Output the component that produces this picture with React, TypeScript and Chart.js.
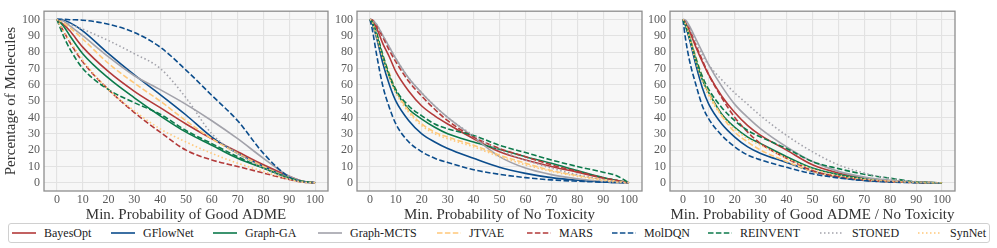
import React, { useEffect, useRef } from "react";
import { Chart, registerables } from "chart.js";
Chart.register(...registerables);

// ---------- data ----------
const methods = ["BayesOpt", "GFlowNet", "Graph-GA", "Graph-MCTS", "JTVAE", "MARS", "MolDQN", "REINVENT", "STONED", "SynNet"];
const tickValues = [0, 10, 20, 30, 40, 50, 60, 70, 80, 90, 100];

const xAdme = [0, 2.5, 5, 10, 20, 30, 40, 50, 60, 70, 80, 90, 95, 100];
const admeBayesOpt = [100, 97, 93, 83, 68, 56, 46, 36, 27, 19, 11, 4, 1, 0];
const admeGFlowNet = [100, 99.5, 98, 93, 79, 66, 54, 41.5, 28, 18, 10, 3, 1, 0];
const admeGraphGA = [100, 96, 90, 79, 64, 52, 41, 31, 23, 15, 9, 3, 1, 0];
const admeGraphMCTS = [100, 99, 96, 90, 77, 65.5, 57, 48, 38, 27, 15, 4, 1, 0];
const admeJTVAE = [100, 98, 95, 88, 73, 61, 50, 38, 27, 18, 10, 3, 1, 0];
const admeMARS = [100, 93, 86, 74, 57, 43, 31, 20, 14, 10, 6, 2, 0.5, 0];
const admeMolDQN = [100, 100, 99.8, 99.5, 97, 92, 83, 69, 53.5, 38, 18, 3.5, 0.8, 0];
const admeREINVENT = [100, 90, 82, 70, 57, 49, 42, 32, 24, 16, 9, 3, 1, 0];
const admeSTONED = [100, 99, 97, 94, 87, 79, 70, 52, 30, 18, 9, 2.5, 0.5, 0];
const admeSynNet = [100, 93, 87, 75, 57, 44, 33, 25, 18, 12, 7, 2, 0.5, 0];

const xTox = [0, 1, 2.5, 5, 7.5, 10, 15, 20, 25, 30, 40, 50, 60, 70, 80, 90, 95, 100];
const toxBayesOpt = [100, 99, 95, 85, 77, 68, 56, 47, 41, 36, 27, 19, 14, 10, 6.5, 3, 1.5, 0];
const toxGFlowNet = [100, 97, 89, 73, 60, 50, 38, 30, 25, 21, 15, 9.5, 5.8, 3.2, 1.6, 0.6, 0.2, 0];
const toxGraphGA = [100, 98, 91, 77, 65, 56, 45, 39, 34, 30, 25, 20.5, 16, 12, 7.5, 3.2, 1.5, 0];
const toxGraphMCTS = [100, 99.5, 97, 90, 83, 76, 64, 55, 47, 40, 28, 16, 9, 5, 2.5, 0.8, 0.3, 0];
const toxJTVAE = [100, 98, 91, 78, 67, 57, 44, 36, 31, 28, 23, 17, 12, 7.5, 4.5, 2, 1, 0];
const toxMARS = [100, 99.5, 96, 89, 81, 74, 62, 53, 45, 38, 28, 21, 16, 11, 7, 3, 1.5, 0];
const toxMolDQN = [100, 93, 79, 59, 46, 36, 25, 19, 15, 12.5, 8, 5.2, 3.2, 1.8, 1, 0.4, 0.2, 0];
const toxREINVENT = [100, 98, 92, 78, 66, 57, 47, 41, 36, 33, 29, 23, 18.5, 14, 10, 6.5, 4.5, 0];
const toxSTONED = [100, 99.5, 97, 90, 83, 76, 64, 55, 47, 40, 29, 20, 14, 9, 5, 2, 0.8, 0];
const toxSynNet = [100, 98, 90, 76, 64, 55, 43, 35, 30, 27, 22, 16, 11, 7, 4, 1.5, 0.5, 0];

const xBoth = [0, 1, 2.5, 5, 7.5, 10, 15, 20, 25, 30, 40, 50, 60, 70, 80, 90, 95, 100];
const bothBayesOpt = [100, 98, 93, 83, 74, 66, 53, 43, 35, 29, 20, 11, 6, 3, 1.3, 0.4, 0.1, 0];
const bothGFlowNet = [100, 96, 88, 72, 58, 48, 36, 28, 22, 18, 12.5, 7, 3.5, 1.5, 0.6, 0.2, 0, 0];
const bothGraphGA = [100, 97, 90, 75, 63, 55, 42, 34, 28, 24, 16, 9, 5, 2.6, 1.2, 0.4, 0.1, 0];
const bothGraphMCTS = [100, 99.5, 96, 88, 80, 72, 59, 48, 40, 33, 22, 13, 7, 3.5, 1.5, 0.5, 0.2, 0];
const bothJTVAE = [100, 97, 90, 77, 65, 55, 41, 31, 25, 20, 13, 7, 3.6, 1.8, 0.7, 0.2, 0.1, 0];
const bothMARS = [100, 98, 94, 84, 75, 66, 52, 40, 31, 24, 15, 7.5, 3.8, 1.7, 0.7, 0.2, 0.1, 0];
const bothMolDQN = [100, 88, 75, 60, 47, 39, 29, 22, 17, 14, 9.5, 5.5, 3, 1.4, 0.5, 0.1, 0, 0];
const bothREINVENT = [100, 96, 89, 76, 65, 57, 46, 38, 32, 28, 21, 13, 8.7, 5.2, 2.8, 0.6, 0.2, 0];
const bothSTONED = [100, 99, 95, 86, 78, 72, 63, 55, 48, 41, 29, 19, 11, 6, 2.5, 0.7, 0.2, 0];
const bothSynNet = [100, 97, 89, 74, 62, 53, 41, 33, 27, 23, 15, 8.5, 4.5, 2.3, 1, 0.3, 0.1, 0];

// ---------- styles ----------
const RED = "#b33a3a";
const BLUE = "#0c4d8c";
const GREEN = "#0c7a4b";
const GREY = "#a2a2aa";
const ORANGE = "#ffc879";
const lineColors = [RED, BLUE, GREEN, GREY, ORANGE, RED, BLUE, GREEN, GREY, ORANGE];
const DASH = [5.5, 2.4];
const DOT = [1.5, 2.5];
const lineDashes = [[], [], [], [], DASH, DASH, DASH, DASH, DOT, DOT];
const FONT = "'Liberation Serif', 'DejaVu Serif', serif";

const panels = [
  { x: xAdme, series: [admeBayesOpt, admeGFlowNet, admeGraphGA, admeGraphMCTS, admeJTVAE, admeMARS, admeMolDQN, admeREINVENT, admeSTONED, admeSynNet], title: "Min. Probability of Good ADME", yTitle: "Percentage of Molecules", left: 0, width: 330, padLeft: 2, yWidth: 42 },
  { x: xTox, series: [toxBayesOpt, toxGFlowNet, toxGraphGA, toxGraphMCTS, toxJTVAE, toxMARS, toxMolDQN, toxREINVENT, toxSTONED, toxSynNet], title: "Min. Probability of No Toxicity", yTitle: "", left: 322, width: 322, padLeft: 0, yWidth: 35 },
  { x: xBoth, series: [bothBayesOpt, bothGFlowNet, bothGraphGA, bothGraphMCTS, bothJTVAE, bothMARS, bothMolDQN, bothREINVENT, bothSTONED, bothSynNet], title: "Min. Probability of Good ADME / No Toxicity", yTitle: "", left: 640, width: 317, padLeft: 0, yWidth: 30 },
];

const legendLeft = [12, 111, 213, 318, 437, 527, 612, 708, 820, 918];

const framePlugin = {
  id: "frame",
  beforeDraw(chart: any) {
    const { ctx, chartArea: a } = chart;
    ctx.save();
    ctx.fillStyle = "#f7f7f7";
    ctx.fillRect(a.left, a.top, a.right - a.left, a.bottom - a.top);
    ctx.restore();
  },
  afterDraw(chart: any) {
    const { ctx, chartArea: a } = chart;
    ctx.save();
    ctx.strokeStyle = "#8e8e8e";
    ctx.lineWidth = 1.3;
    ctx.strokeRect(a.left, a.top, a.right - a.left, a.bottom - a.top);
    ctx.restore();
  },
};

function Panel({ p }: { p: any }) {
  const ref = useRef<HTMLCanvasElement>(null);
  useEffect(() => {
    const datasets = methods.map((m, i) => ({
      label: m,
      data: p.x.map((xv: number, k: number) => ({ x: xv, y: p.series[i][k] })),
      borderColor: lineColors[i],
      backgroundColor: lineColors[i],
      borderDash: lineDashes[i],
      borderWidth: 1.6,
      pointRadius: 0,
      cubicInterpolationMode: "monotone" as const,
      fill: false,
      order: methods.length - i,
    }));
    const axisCommon = (isX: boolean) => ({
      type: "linear" as const,
      min: -5,
      max: 105,
      afterBuildTicks: (s: any) => {
        s.ticks = tickValues.map((v) => ({ value: v }));
      },
      grid: { color: "#e2e2e2", lineWidth: 1.1, drawTicks: false },
      border: { display: false },
      ticks: {
        padding: isX ? 2 : 4,
        color: "#5a5a5a",
        font: { family: FONT, size: 12 },
        maxRotation: 0,
        autoSkip: false,
      },
    });
    const chart = new Chart(ref.current!, {
      type: "line",
      data: { datasets },
      options: {
        animation: false,
        responsive: false,
        layout: { padding: { left: p.padLeft, right: 2, top: 5, bottom: 0 } },
        plugins: { legend: { display: false }, tooltip: { enabled: false } },
        scales: {
          x: {
            ...axisCommon(true),
            afterFit: (s: any) => {
              s.height = 33;
            },
            title: { display: true, text: p.title, color: "#333", font: { family: FONT, size: 15 }, padding: 0 },
          },
          y: {
            ...axisCommon(false),
            afterFit: (s: any) => {
              s.width = p.yWidth;
            },
            title: { display: !!p.yTitle, text: p.yTitle, color: "#333", font: { family: FONT, size: 15 }, padding: 0 },
          },
        },
      },
      plugins: [framePlugin],
    });
    return () => chart.destroy();
  }, [p]);
  return (
    <canvas
      ref={ref}
      width={p.width}
      height={224}
      style={{ position: "absolute", left: p.left, top: 0, width: p.width, height: 224 }}
    />
  );
}

function LegendSample({ i }: { i: number }) {
  const d = lineDashes[i];
  return (
    <svg width={24} height={6} style={{ position: "absolute", left: legendLeft[i], top: 230 }}>
      <line x1={0} y1={3} x2={24} y2={3} stroke={lineColors[i]} strokeWidth={1.6} strokeDasharray={d.length ? d.join(",") : undefined} />
    </svg>
  );
}

export default function App() {
  return (
    <div style={{ position: "absolute", left: 0, top: 0, width: 997, height: 248, background: "#fff", overflow: "hidden", fontFamily: FONT }}>
      {panels.map((p, i) => (
        <Panel key={i} p={p} />
      ))}
      <div
        style={{
          position: "absolute",
          left: 8,
          top: 223,
          width: 982,
          height: 20,
          border: "1px solid #d0d0d0",
          borderRadius: 3,
          background: "#fff",
          boxSizing: "border-box",
        }}
      />
      {methods.map((m, i) => (
        <React.Fragment key={m}>
          <LegendSample i={i} />
          <span
            style={{
              position: "absolute",
              left: legendLeft[i] + 32,
              top: 225,
              fontSize: 12,
              lineHeight: "16px",
              color: "#222",
              whiteSpace: "nowrap",
            }}
          >
            {m}
          </span>
        </React.Fragment>
      ))}
    </div>
  );
}
